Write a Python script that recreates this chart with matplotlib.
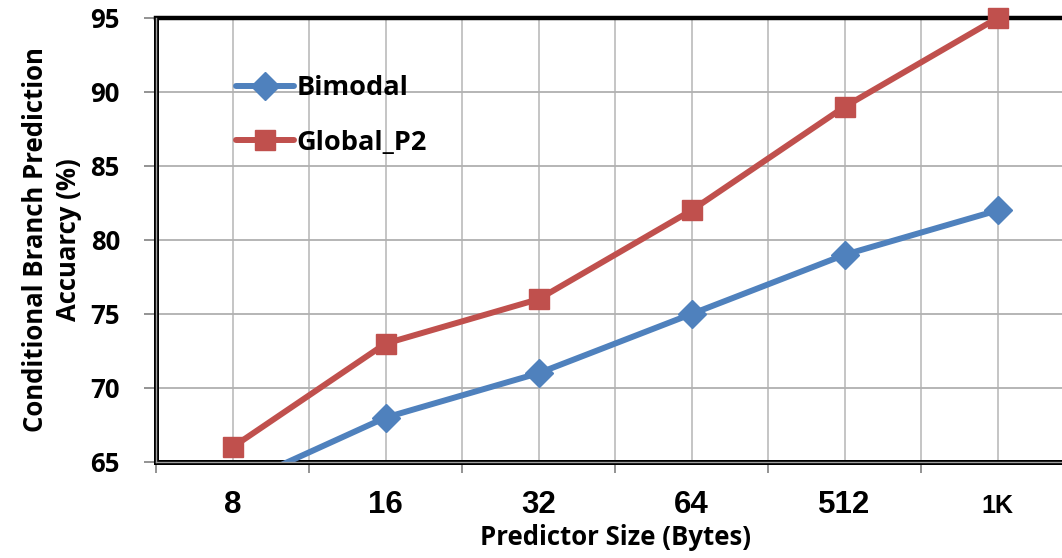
import matplotlib
matplotlib.use("Agg")
import matplotlib.pyplot as plt
import numpy as np

categories = ["8", "16", "32", "64", "512", "1K"]
bimodal = [63.3, 68, 71, 75, 79, 82]
global_p2 = [66, 73, 76, 82, 89, 95]
yticks = [65, 70, 75, 80, 85, 90, 95]

FONT = "Open Sans"

fig = plt.figure(figsize=(10.62, 5.58), dpi=100)
ax = fig.add_axes([156/1062, 1-462/558, (1074-156)/1062, (462-18)/558])

x = np.arange(len(categories))
ax.plot(x, bimodal, color="#4F81BD", lw=4.3, marker="D", ms=14, mfc="#4F81BD", mec="#4F81BD",
        label="Bimodal", zorder=4, solid_capstyle="round")
ax.plot(x, global_p2, color="#C0504D", lw=4.3, marker="s", ms=14.5, mfc="#C0504D", mec="#C0504D",
        label="Global_P2", zorder=5, clip_on=False, solid_capstyle="round")

ax.set_xlim(-0.5, len(categories) - 0.5)
ax.set_ylim(65, 95)
ax.set_yticks(yticks)
ax.set_xticks(x)
ax.set_xticklabels(categories, fontfamily="Liberation Sans", fontweight="bold", fontsize=22.5)
for lab in ax.get_xticklabels():
    lab.set_va("baseline")
    if lab.get_text() == "1K":
        lab.set_fontsize(18)
ax.set_xticks(np.arange(-0.5, len(categories), 1), minor=True)
for lab in ax.get_yticklabels():
    lab.set_fontfamily(FONT)
    lab.set_fontweight("bold")
    lab.set_fontsize(18.5)

ax.tick_params(axis="x", which="major", length=0, pad=36.5)
ax.tick_params(axis="x", which="minor", length=8, width=1.2, color="#808080", direction="out")
ax.tick_params(axis="y", length=9, width=1.2, color="#808080", direction="out", pad=17)

ax.grid(True, axis="y", color="#B0B0B0", lw=1.3, zorder=0)
ax.grid(True, axis="x", which="both", color="#C0C0C0", lw=1.3, zorder=0)
ax.set_axisbelow(True)

ax.spines["right"].set_visible(False)
ax.spines["top"].set_color("black")
ax.spines["top"].set_linewidth(3.2)
ax.spines["left"].set_color("black")
ax.spines["left"].set_linewidth(3.6)
ax.spines["bottom"].set_color("black")
ax.spines["bottom"].set_linewidth(3.6)
ax.axvline(-0.5, color="#A0A0A0", lw=1.0, zorder=6, clip_on=False)
ax.axhline(65, color="#A0A0A0", lw=1.0, zorder=6, clip_on=False)

ax.set_ylabel("Conditional Branch Prediction\nAccuarcy (%)", fontfamily=FONT, fontweight="bold",
              fontsize=18.5, labelpad=6, linespacing=1.3)
ax.set_xlabel("Predictor Size (Bytes)", fontfamily=FONT, fontweight="bold", fontsize=18.5, labelpad=3)

leg = ax.legend(loc="upper left", bbox_to_anchor=(0.075, 0.895), frameon=False,
                prop={"family": FONT, "weight": "bold", "size": 19.5},
                handlelength=2.15, handletextpad=0.1, labelspacing=1.05, borderaxespad=0)

fig.savefig("out.png", dpi=100)
